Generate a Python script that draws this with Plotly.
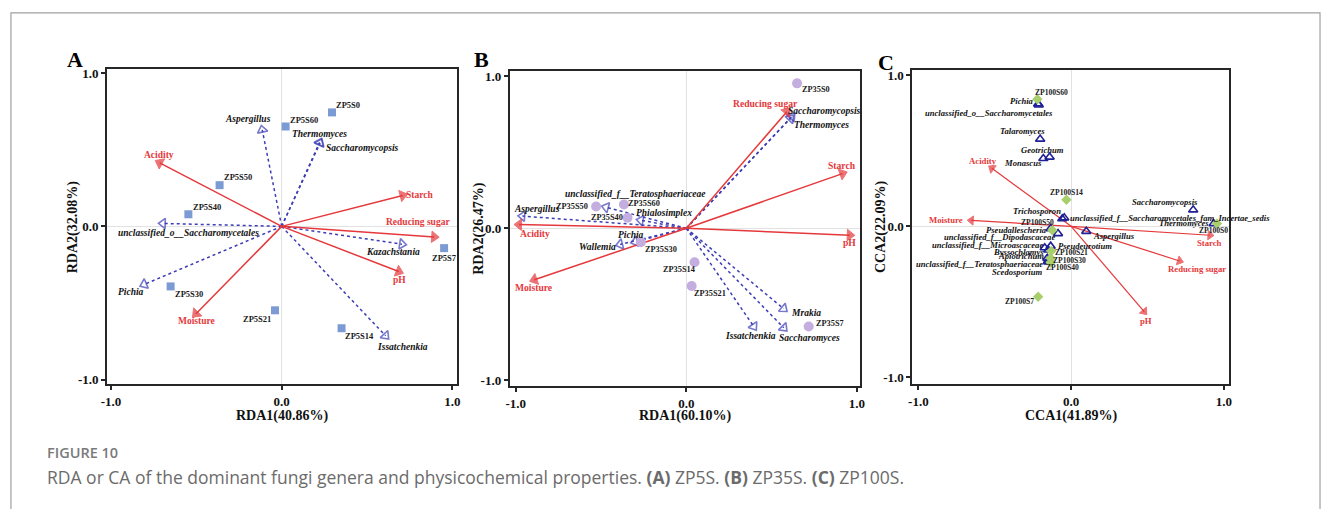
import plotly.graph_objects as go

# ---------------- Panel A: ZP5S (RDA) ----------------
A_SAMPLES = ["ZP5S0", "ZP5S60", "ZP5S50", "ZP5S40", "ZP5S7", "ZP5S30", "ZP5S21", "ZP5S14"]
A_SAMPLE_X = [0.295, 0.023, -0.364, -0.547, 0.952, -0.651, -0.039, 0.351]
A_SAMPLE_Y = [0.744, 0.652, 0.269, 0.079, -0.142, -0.392, -0.548, -0.665]

A_GENERA = ["Aspergillus", "Thermomyces", "Saccharomycopsis",
            "unclassified_o__Saccharomycetales", "Kazachstania", "Pichia", "Issatchenkia"]
A_GENUS_X = [-0.114, 0.222, 0.225, -0.696, 0.705, -0.806, 0.609]
A_GENUS_Y = [0.630, 0.548, 0.544, 0.019, -0.116, -0.379, -0.714]

A_FACTORS = ["Acidity", "Starch", "Reducing sugar", "pH", "Moisture"]
A_FACTOR_X = [-0.715, 0.709, 0.894, 0.686, -0.502]
A_FACTOR_Y = [0.415, 0.202, -0.069, -0.295, -0.570]

# ---------------- Panel B: ZP35S (RDA) ----------------
B_SAMPLES = ["ZP35S0", "ZP35S50", "ZP35S60", "ZP35S40", "ZP35S30", "ZP35S14", "ZP35S21", "ZP35S7"]
B_SAMPLE_X = [0.649, -0.529, -0.366, -0.345, -0.267, 0.048, 0.031, 0.717]
B_SAMPLE_Y = [0.952, 0.143, 0.156, 0.069, -0.091, -0.223, -0.379, -0.645]

B_GENERA = ["Saccharomycopsis", "Thermomyces", "unclassified_f__Teratosphaeriaceae",
            "Aspergillus", "Phialosimplex", "Pichia", "Wallemia", "Mrakia",
            "Issatchenkia", "Saccharomyces"]
B_GENUS_X = [0.618, 0.610, -0.471, -0.961, -0.267, -0.300, -0.388, 0.570, 0.395, 0.571]
B_GENUS_Y = [0.734, 0.722, 0.138, 0.080, 0.052, -0.089, -0.106, -0.528, -0.645, -0.654]

B_FACTORS = ["Reducing sugar", "Starch", "pH", "Acidity", "Moisture"]
B_FACTOR_X = [0.589, 0.915, 0.958, -0.981, -0.891]
B_FACTOR_Y = [0.766, 0.359, -0.045, 0.024, -0.338]

# ---------------- Panel C: ZP100S (CCA) ----------------
C_SAMPLES = ["ZP100S60", "ZP100S14", "ZP100S0", "ZP100S50", "ZP100S21", "ZP100S30",
             "ZP100S40", "ZP100S7"]
C_SAMPLE_X = [-0.221, -0.031, 0.955, -0.123, -0.130, -0.134, -0.134, -0.216]
C_SAMPLE_Y = [0.841, 0.176, 0.018, -0.026, -0.163, -0.211, -0.240, -0.466]

C_GENERA = ["Pichia", "unclassified_o__Saccharomycetales", "Talaromyces", "Geotrichum",
            "Monascus", "Saccharomycopsis", "Trichosporon",
            "unclassified_f__Saccharomycetales_fam_Incertae_sedis", "Thermomyces",
            "Pseudallescheria", "unclassified_f__Dipodascaceae", "Aspergillus",
            "unclassified_f__Microascaceae", "Pseudeurotium", "Byssochlamys",
            "Apiotrichum", "unclassified_f__Teratosphaeriaceae", "Scedosporium"]
C_GENUS_X = [-0.216, -0.212, -0.203, -0.141, -0.182, 0.799, -0.058, -0.045, 0.933,
             -0.134, -0.086, 0.099, -0.173, -0.134, -0.150, -0.156, -0.151, -0.150]
C_GENUS_Y = [0.810, 0.803, 0.577, 0.458, 0.449, 0.109, 0.050, 0.056, 0.018,
             -0.015, -0.048, -0.033, -0.142, -0.131, -0.157, -0.211, -0.227, -0.235]

C_FACTORS = ["Acidity", "Moisture", "Starch", "Reducing sugar", "pH"]
C_FACTOR_X = [-0.519, -0.654, 0.909, 0.710, 0.478]
C_FACTOR_Y = [0.384, 0.039, -0.059, -0.229, -0.564]

AXIS_TITLES = [("RDA1(40.86%)", "RDA2(32.08%)"),
               ("RDA1(60.10%)", "RDA2(26.47%)"),
               ("CCA1(41.89%)", "CCA2(22.09%)")]
PANEL_LETTERS = ["A", "B", "C"]
TICK_VALS = [-1.0, 0.0, 1.0]
TICK_TEXT = ["-1.0", "0.0", "1.0"]

CAPTION_HEAD = "FIGURE 10"
CAPTION = ("RDA or CA of the dominant fungi genera and physicochemical properties. "
           "<b>(A)</b> ZP5S. <b>(B)</b> ZP35S. <b>(C)</b> ZP100S.")

# ---------------- layout / style ----------------
W, H = 1328, 509
SERIF = "Liberation Serif, Times New Roman, serif"
SANS = "Open Sans, Lato, sans-serif"
RED = "#e5383b"
NAVY = "#1f1f96"
DOT_BLUE = "#3d3db5"

# plot frames in pixels: (left, right, top, bottom)
FRAMES = [(102, 455, 67, 386), (508, 861, 69, 388), (914, 1233, 68, 386)]
XRANGES = [(-1.023, 1.029), (-1.035, 1.017), (-1.039, 1.032)]
YRANGES = [(-1.032, 1.026), (-1.039, 1.032), (-1.046, 1.033)]
LETTER_POS = [(70, 57), (479, 57), (887, 60)]
XTITLE_Y = 418
YTITLE_X = [67, 477, 883]

SAMPLE_STYLE = [dict(symbol="square", size=8, color="#7c9bd5"),
                dict(symbol="circle", size=10, color="#c3aedf"),
                dict(symbol="diamond", size=8, color="#a8cf6b")]

# label offsets (dx, dy in screen pixels, anchor)
LABEL_POS = [
    {  # A
        "ZP5S0": (16, -7, "c"), "ZP5S60": (18, -7, "c"), "ZP5S50": (18, -8, "c"),
        "ZP5S40": (19, -7, "c"), "ZP5S7": (0, 10, "c"), "ZP5S30": (18, 8, "c"),
        "ZP5S21": (-18, 9, "c"), "ZP5S14": (18, 8, "c"),
        "Aspergillus": (-14, -11, "c"), "Thermomyces": (0, -8, "c"),
        "Saccharomycopsis": (42, 5, "c"),
        "unclassified_o__Saccharomycetales": (26, 10, "c"),
        "Kazachstania": (-9, 8, "c"), "Pichia": (-13, 8, "c"), "Issatchenkia": (17, 11, "c"),
        "Acidity": (-1, -8, "c"), "Starch": (17, 0, "c"), "Reducing sugar": (-16, -15, "c"),
        "pH": (1, 8, "c"), "Moisture": (0, 7, "c"),
    },
    {  # B
        "ZP35S0": (19, 6, "c"), "ZP35S50": (-24, 0, "c"), "ZP35S60": (20, -1, "c"),
        "ZP35S40": (-21, 0, "c"), "ZP35S30": (20, 7, "c"), "ZP35S14": (-16, 7, "c"),
        "ZP35S21": (18, 8, "c"), "ZP35S7": (21, -3, "c"),
        "Saccharomycopsis": (33, -6, "c"), "Thermomyces": (31, 7, "c"),
        "unclassified_f__Teratosphaeriaceae": (29, -13, "c"), "Aspergillus": (15, -7, "c"),
        "Phialosimplex": (23, -7, "c"), "Pichia": (-4, -7, "c"), "Wallemia": (-23, 3, "c"),
        "Mrakia": (22, 4, "c"), "Issatchenkia": (-3, 10, "c"), "Saccharomyces": (26, 10, "c"),
        "Reducing sugar": (-21, -8, "c"), "Starch": (0, -8, "c"), "pH": (0, 7, "c"),
        "Acidity": (16, 9, "c"), "Moisture": (0, 8, "c"),
    },
    {  # C
        "ZP100S60": (14, -7, "c"), "ZP100S14": (0, -7, "c"), "ZP100S0": (-4, 7, "c"),
        "ZP100S50": (-15, -8, "c"), "ZP100S21": (20, 2, "c"), "ZP100S30": (19, 2, "c"),
        "ZP100S40": (12, 5, "c"), "ZP100S7": (-19, 5, "c"),
        "Pichia": (-16, -3, "c"), "unclassified_o__Saccharomycetales": (-50, 8, "c"),
        "Talaromyces": (-18, -8, "c"), "Geotrichum": (-7, -7, "c"), "Monascus": (-20, 5, "c"),
        "Saccharomycopsis": (-28, -8, "c"), "Trichosporon": (-25, -8, "c"),
        "unclassified_f__Saccharomycetales_fam_Incertae_sedis": (4, 0, "l"),
        "Thermomyces": (-3, -1, "r"), "Pseudallescheria": (-2, 1, "r"),
        "unclassified_f__Dipodascaceae": (-1, 3, "r"), "Aspergillus": (5, 5, "l"),
        "unclassified_f__Microascaceae": (0, -3, "r"), "Pseudeurotium": (5, 0, "l"),
        "Byssochlamys": (-2, 2, "r"), "Apiotrichum": (-1, -2, "r"),
        "unclassified_f__Teratosphaeriaceae": (-3, 3, "r"), "Scedosporium": (-4, 10, "r"),
        "Acidity": (-9, -7, "c"), "Moisture": (-6, 0, "r"), "Starch": (0, 8, "c"),
        "Reducing sugar": (17, 8, "c"), "pH": (2, 9, "c"),
    },
]

FONT_SIZES = [  # sample, genus, factor
    (8.5, 9.5, 9.5),
    (8.3, 9.5, 9.6),
    (7.6, 8.6, 8.7),
]

PANELS = [
    (A_SAMPLES, A_SAMPLE_X, A_SAMPLE_Y, A_GENERA, A_GENUS_X, A_GENUS_Y,
     A_FACTORS, A_FACTOR_X, A_FACTOR_Y),
    (B_SAMPLES, B_SAMPLE_X, B_SAMPLE_Y, B_GENERA, B_GENUS_X, B_GENUS_Y,
     B_FACTORS, B_FACTOR_X, B_FACTOR_Y),
    (C_SAMPLES, C_SAMPLE_X, C_SAMPLE_Y, C_GENERA, C_GENUS_X, C_GENUS_Y,
     C_FACTORS, C_FACTOR_X, C_FACTOR_Y),
]

fig = go.Figure()


def axis_ids(i):
    s = "" if i == 0 else str(i + 1)
    return "x" + s, "y" + s


def add_arrow(i, x, y, color, dash, width, symbol, size, mline):
    xa, ya = axis_ids(i)
    fig.add_trace(go.Scatter(
        x=[0, x], y=[0, y], xaxis=xa, yaxis=ya, mode="lines+markers",
        line=dict(color=color, width=width, dash=dash),
        marker=dict(symbol=symbol, size=[0, size], angleref="previous",
                    color=color, line=dict(color=color, width=mline)),
        hoverinfo="skip", showlegend=False, cliponaxis=False))


def add_label(i, x, y, text, pos, font):
    xa, ya = axis_ids(i)
    dx, dy, anchor = pos
    fig.add_annotation(
        x=x, y=y, xref=xa, yref=ya, text=text, showarrow=False,
        xanchor={"c": "center", "l": "left", "r": "right"}[anchor], yanchor="middle",
        xshift=dx, yshift=-dy, font=font)


for i, (sn, sx, sy, gn, gx, gy, fn, fx, fy) in enumerate(PANELS):
    xa, ya = axis_ids(i)
    fs_s, fs_g, fs_f = FONT_SIZES[i]
    pos = LABEL_POS[i]

    # genera: dotted arrows for RDA, plain triangles for CCA
    if i < 2:
        for name, x, y in zip(gn, gx, gy):
            add_arrow(i, x, y, DOT_BLUE, "dot", 1.5, "triangle-up-open", 9, 1.6)
    # environmental factors: red arrows
    for name, x, y in zip(fn, fx, fy):
        add_arrow(i, x, y, RED, "solid", 1.5 if i < 2 else 1.2, "triangle-up",
                  10 if i < 2 else 8, 1)
    if i == 2:
        fig.add_trace(go.Scatter(
            x=gx, y=gy, xaxis=xa, yaxis=ya, mode="markers",
            marker=dict(symbol="triangle-up-open", size=8, color=NAVY,
                        line=dict(color=NAVY, width=1.6)),
            hoverinfo="skip", showlegend=False, cliponaxis=False))
    # samples
    st = SAMPLE_STYLE[i]
    fig.add_trace(go.Scatter(
        x=sx, y=sy, xaxis=xa, yaxis=ya, mode="markers",
        marker=dict(symbol=st["symbol"], size=st["size"], color=st["color"],
                    line=dict(width=0)),
        hoverinfo="skip", showlegend=False, cliponaxis=False))

    # labels
    for name, x, y in zip(sn, sx, sy):
        add_label(i, x, y, name, pos[name],
                  dict(family=SERIF, size=fs_s, color="#1a1a1a", weight="bold"))
    for name, x, y in zip(gn, gx, gy):
        add_label(i, x, y, name, pos[name],
                  dict(family=SERIF, size=fs_g, color="#111111", weight="bold",
                       style="italic"))
    for name, x, y in zip(fn, fx, fy):
        add_label(i, x, y, name, pos[name],
                  dict(family=SERIF, size=fs_f, color=RED, weight="bold"))

# axes
layout_axes = {}
for i in range(3):
    l, r, t, b = FRAMES[i]
    s = "" if i == 0 else str(i + 1)
    common = dict(
        tickvals=TICK_VALS, ticktext=TICK_TEXT, showgrid=False,
        zeroline=True, zerolinecolor="#e2e2e2", zerolinewidth=1,
        showline=True, mirror=True, linecolor="#262626", linewidth=2,
        ticks="outside", ticklen=4, tickwidth=1.5, tickcolor="#262626",
        tickfont=dict(family=SERIF, size=13, color="#111111", weight="bold"),
        fixedrange=True)
    layout_axes["xaxis" + s] = dict(
        domain=[l / W, r / W], range=list(XRANGES[i]),
        anchor="y" + s, **common)
    layout_axes["yaxis" + s] = dict(
        domain=[1 - b / H, 1 - t / H], range=list(YRANGES[i]),
        anchor="x" + s, **common)

fig.update_layout(
    width=W, height=H, margin=dict(l=0, r=0, t=0, b=0),
    paper_bgcolor="white", plot_bgcolor="white", showlegend=False,
    **layout_axes)

# axis titles and panel letters
for i in range(3):
    l, r, t, b = FRAMES[i]
    xt, yt = AXIS_TITLES[i]
    fig.add_annotation(x=(l + r) / 2 / W, y=1 - XTITLE_Y / H, xref="paper", yref="paper",
                       text=xt, showarrow=False, xanchor="center", yanchor="middle",
                       font=dict(family=SERIF, size=14, color="#111111", weight="bold"))
    fig.add_annotation(x=YTITLE_X[i] / W, y=1 - ((t + b) / 2) / H, xref="paper", yref="paper",
                       text=yt, showarrow=False, textangle=-90,
                       xanchor="center", yanchor="middle",
                       font=dict(family=SERIF, size=14, color="#111111", weight="bold"))
    lx, ly = LETTER_POS[i]
    fig.add_annotation(x=lx / W, y=1 - ly / H, xref="paper", yref="paper",
                       text=PANEL_LETTERS[i], showarrow=False,
                       xanchor="center", yanchor="middle",
                       font=dict(family=SERIF, size=22, color="#000000", weight="bold"))

# caption
fig.add_annotation(x=39 / W, y=1 - 455 / H, xref="paper", yref="paper", text=CAPTION_HEAD,
                   showarrow=False, xanchor="left", yanchor="middle",
                   font=dict(family=SANS, size=14.5, color="#7a7a7a", weight=600))
fig.add_annotation(x=39 / W, y=1 - 480 / H, xref="paper", yref="paper", text=CAPTION,
                   showarrow=False, xanchor="left", yanchor="middle",
                   font=dict(family=SANS, size=17.5, color="#6b6b6b"))

# outer frame
fig.add_shape(type="rect", xref="paper", yref="paper",
              x0=5 / W, x1=1325 / W, y0=-0.05, y1=1 - 10 / H,
              line=dict(color="#a0a0a0", width=1.2), fillcolor="rgba(0,0,0,0)", layer="below")

fig.write_html("out.html")
